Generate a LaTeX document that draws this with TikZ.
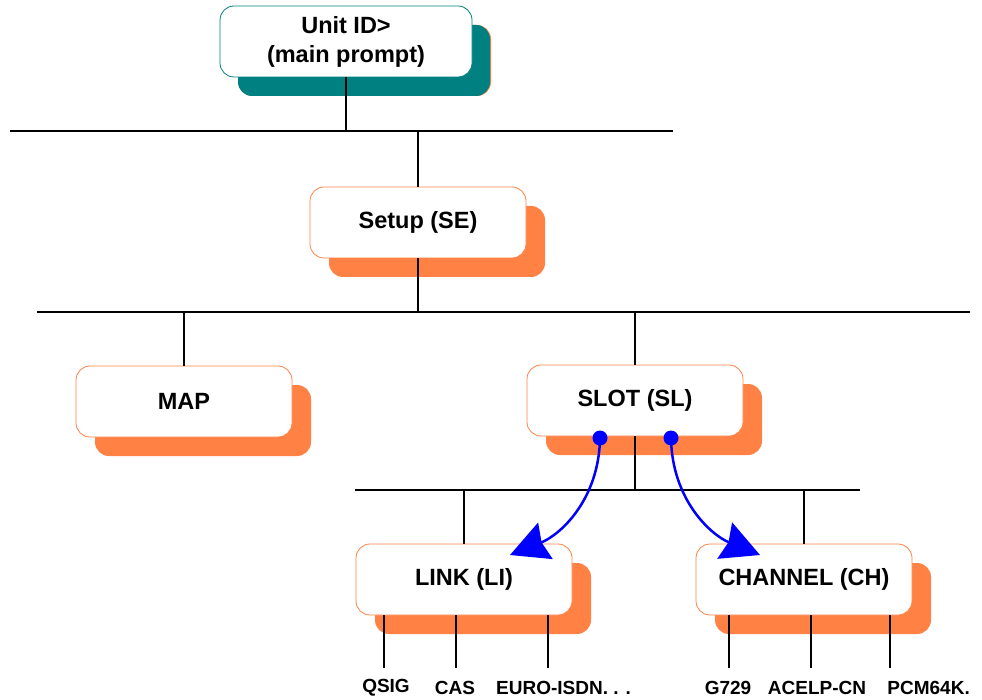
\documentclass[tikz,border=0pt]{standalone}
\usepackage{fontspec}
\setmainfont{Liberation Sans}
\usetikzlibrary{arrows.meta,shadows}
\definecolor{menuorange}{RGB}{255,130,68}
\definecolor{menuteal}{RGB}{0,128,128}
\definecolor{linkblue}{RGB}{0,0,255}
\tikzset{
  menubox/.style={draw=menuorange, line width=0.8pt, fill=white, rounded corners=14pt,
    minimum width=216pt, minimum height=71pt, inner sep=0pt,
    font=\fontsize{23.5}{29}\selectfont\bfseries, align=center,
    drop shadow={shadow xshift=19pt, shadow yshift=-19pt, fill=menuorange, opacity=1}},
  topbox/.style={menubox, draw=menuteal, minimum width=252pt,
    drop shadow={shadow xshift=18pt, shadow yshift=-19pt, fill=menuteal, opacity=1}},
  tree/.style={draw=black, line width=1.2pt},
  leaf/.style={font=\fontsize{19}{22}\selectfont\bfseries, inner sep=0pt},
  jump/.style={draw=linkblue, line width=2.5pt,
    -{Stealth[length=38pt, width=39pt, inset=4pt]}},
  dot/.style={circle, fill=linkblue, minimum size=15pt, inner sep=0pt}
}
\begin{document}
\begin{tikzpicture}[x=1pt, y=-1pt]
\useasboundingbox (0,0) rectangle (982,700);

% menu boxes
\node[topbox] (unit) at (346,41.5) {Unit ID>\\(main prompt)};
\node[menubox] (se) at (418,222.5) {Setup (SE)};
\node[menubox] (map) at (184,401.5) {MAP};
\node[menubox] (sl) at (635,400.5) {SLOT (SL)};
\node[menubox] (li) at (464,579.5) {LINK (LI)};
\node[menubox] (ch) at (804,579.5) {CHANNEL (CH)};

% bus bars
\coordinate (busA) at (346,131);
\coordinate (busAl) at (10,131);
\coordinate (busAr) at (673,131);
\coordinate (busB) at (418,312);
\coordinate (busBl) at (37,312);
\coordinate (busBr) at (970,312);
\coordinate (busC) at (635,490);
\coordinate (busCl) at (355,490);
\coordinate (busCr) at (860,490);

\draw[tree] (unit.south) -- (busA);
\draw[tree] (busAl) -- (busAr);
\draw[tree] (se.north |- busA) -- (se.north);
\draw[tree] (se.south) -- (busB);
\draw[tree] (busBl) -- (busBr);
\draw[tree] (map.north |- busB) -- (map.north);
\draw[tree] (sl.north |- busB) -- (sl.north);
\draw[tree] (sl.south) -- (busC);
\draw[tree] (busCl) -- (busCr);
\draw[tree] (li.north |- busC) -- (li.north);
\draw[tree] (ch.north |- busC) -- (ch.north);

% sub-items
\node[leaf] (qsig) at (386,688) {QSIG};
\node[leaf] (cas) at (455,688) {CAS};
\node[leaf, anchor=west] (euro) at (496,688) {EURO-ISDN. . .};
\node[leaf] (g729) at (728,688) {G729};
\node[leaf] (acelp) at (817,688) {ACELP-CN};
\node[leaf, anchor=east] (pcm) at (970,688) {PCM64K.};

\draw[tree] (384,615) -- (384,668);
\draw[tree] (456,615) -- (456,668);
\draw[tree] (548,615) -- (548,668);
\draw[tree] (729,615) -- (729,668);
\draw[tree] (811,615) -- (811,668);
\draw[tree] (890,615) -- (890,668);

% jumps from SLOT to its sub-menus
\node[dot] (dl) at (600,438) {};
\node[dot] (dr) at (671,438) {};
\coordinate (tipL) at (510,555);
\coordinate (tipR) at (760,555);
\draw[jump] (dl.center) .. controls (599,500) and (560,535) .. (tipL);
\draw[jump] (dr.center) .. controls (672,500) and (711,535) .. (tipR);
\end{tikzpicture}
\end{document}
